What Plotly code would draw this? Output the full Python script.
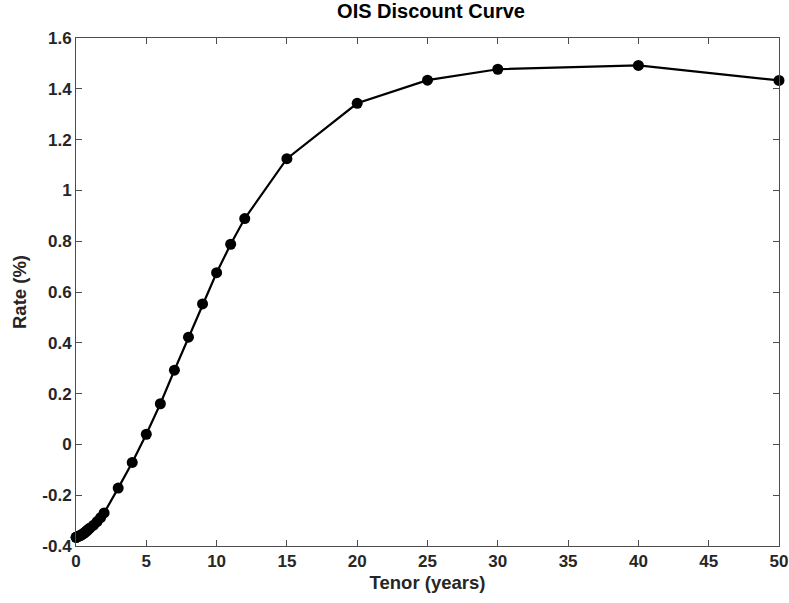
import plotly.graph_objects as go

# OIS discount curve: tenor in years vs zero rate in percent
tenors = [0.0027, 0.0192, 0.0384, 0.0833, 0.1667, 0.25, 0.3333, 0.4167, 0.5,
          0.5833, 0.6667, 0.75, 0.8333, 0.9167, 1.0, 1.25, 1.5, 1.75, 2.0,
          3, 4, 5, 6, 7, 8, 9, 10, 11, 12, 15, 20, 25, 30, 40, 50]
rates = [-0.366, -0.366, -0.365, -0.364, -0.362, -0.360, -0.358, -0.355, -0.352,
         -0.349, -0.345, -0.341, -0.337, -0.333, -0.329, -0.318, -0.304, -0.288, -0.270,
         -0.172, -0.071, 0.040, 0.160, 0.292, 0.422, 0.553, 0.676, 0.788, 0.889,
         1.125, 1.343, 1.434, 1.477, 1.492, 1.433]

x_ticks = [0, 5, 10, 15, 20, 25, 30, 35, 40, 45, 50]
y_ticks = [-0.4, -0.2, 0, 0.2, 0.4, 0.6, 0.8, 1, 1.2, 1.4, 1.6]
y_tick_text = ["-0.4", "-0.2", "0", "0.2", "0.4", "0.6", "0.8", "1", "1.2", "1.4", "1.6"]

FONT = "Liberation Sans"
AXIS_COLOR = "#4d4d4d"
TEXT_COLOR = "#262626"

fig = go.Figure()
fig.add_trace(go.Scatter(
    x=tenors, y=rates, mode="lines+markers",
    line=dict(color="black", width=2.2),
    marker=dict(color="black", size=11),
    showlegend=False,
    cliponaxis=False,
))

fig.update_layout(
    width=789, height=603,
    margin=dict(l=76, r=10, t=38, b=57),
    paper_bgcolor="white", plot_bgcolor="white",
    font=dict(family=FONT, color=TEXT_COLOR),
    title=dict(text="<b>OIS Discount Curve</b>", xref="paper", x=0.505, xanchor="center",
               yref="container", y=0.993, yanchor="top", font=dict(size=20, color="black")),
)

fig.update_xaxes(
    range=[0, 50], tickvals=x_ticks, ticktext=[f"<b>{v}</b>" for v in x_ticks],
    ticks="inside", ticklen=6, tickcolor=AXIS_COLOR, tickwidth=1,
    showline=True, linecolor=AXIS_COLOR, linewidth=1, mirror="ticks",
    showgrid=False, zeroline=False, automargin=False,
    tickfont=dict(size=17, color=TEXT_COLOR),
    title=dict(text="<b>Tenor (years)</b>", font=dict(size=18.5, color=TEXT_COLOR), standoff=5),
)
fig.update_yaxes(
    range=[-0.4, 1.6], tickvals=y_ticks, ticktext=[f"<b>{t}</b>" for t in y_tick_text],
    ticks="inside", ticklen=6, tickcolor=AXIS_COLOR, tickwidth=1,
    showline=True, linecolor=AXIS_COLOR, linewidth=1, mirror="ticks",
    showgrid=False, zeroline=False, automargin=False,
    tickfont=dict(size=17, color=TEXT_COLOR),
    title=dict(text="<b>Rate (%)</b>", font=dict(size=18.5, color=TEXT_COLOR), standoff=10),
)

fig.write_html("out.html")
